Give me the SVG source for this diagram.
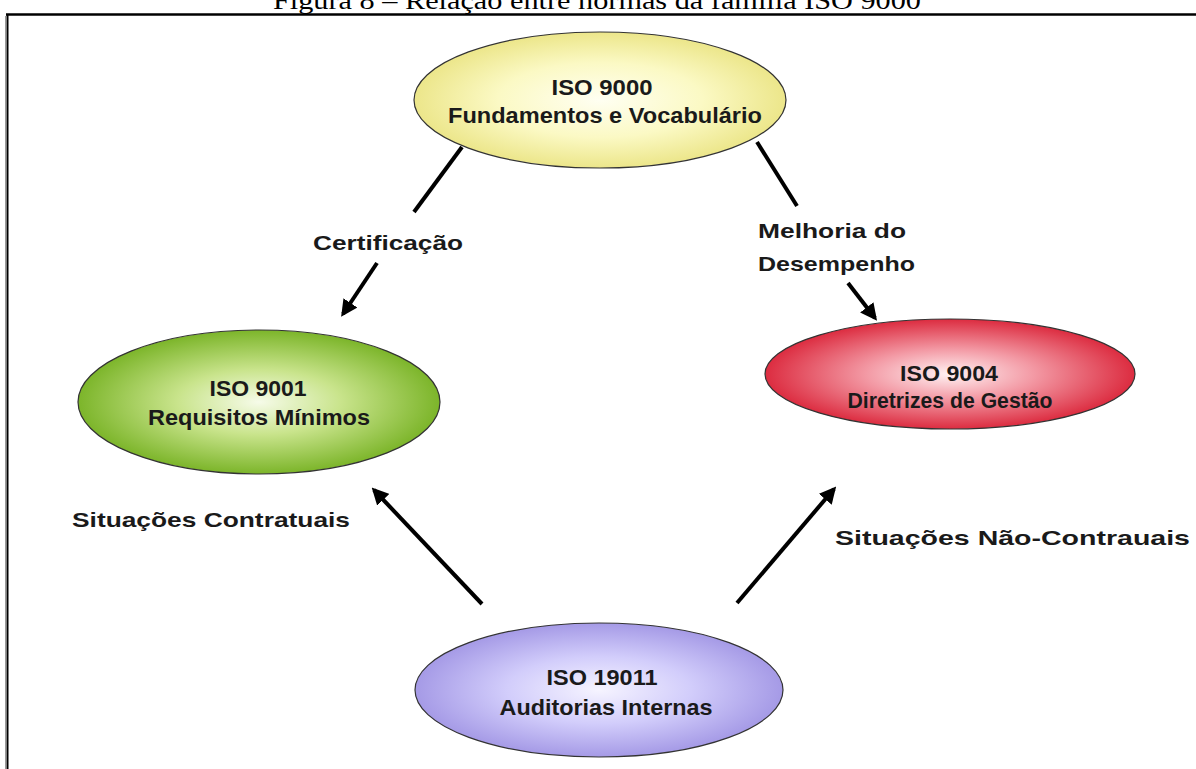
<svg xmlns="http://www.w3.org/2000/svg" width="1196" height="769" viewBox="0 0 1196 769">
<style>
.node-text{font-family:"Liberation Sans",Arial,sans-serif;font-weight:bold;font-size:22px;fill:#1a1a1a;text-anchor:middle}
.label{font-family:"Liberation Sans",Arial,sans-serif;font-weight:bold;font-size:21px;fill:#1a1a1a}
.edge{stroke:#000;stroke-width:4;fill:none}
.shape{stroke:#333;stroke-width:1.2}
</style>
<defs>
<radialGradient id="gYellow" cx="0.5" cy="0.5" r="0.5">
<stop offset="0" stop-color="#fffff2"/>
<stop offset="0.55" stop-color="#fbf9c4"/>
<stop offset="1" stop-color="#ece68a"/>
</radialGradient>
<radialGradient id="gGreen" cx="0.5" cy="0.5" r="0.5">
<stop offset="0" stop-color="#f6fbe9"/>
<stop offset="0.45" stop-color="#c9e48c"/>
<stop offset="1" stop-color="#7cb52a"/>
</radialGradient>
<radialGradient id="gRed" cx="0.5" cy="0.5" r="0.5">
<stop offset="0" stop-color="#fff2f3"/>
<stop offset="0.45" stop-color="#f39aa5"/>
<stop offset="1" stop-color="#dc2c40"/>
</radialGradient>
<radialGradient id="gPurple" cx="0.5" cy="0.5" r="0.5">
<stop offset="0" stop-color="#f6f4ff"/>
<stop offset="0.5" stop-color="#d2cdfb"/>
<stop offset="1" stop-color="#a59ae6"/>
</radialGradient>
<marker id="arrow" viewBox="0 0 10 10" refX="8" refY="5" markerWidth="4.2" markerHeight="4.2" orient="auto" markerUnits="strokeWidth">
<path d="M0,0 L10,5 L0,10 z" fill="#000"/>
</marker>
</defs>
<rect x="0" y="0" width="1196" height="769" fill="#fff"/>
<text x="597" y="9" font-family="'Liberation Serif','Times New Roman',serif" font-size="26" text-anchor="middle" fill="#000" textLength="648" lengthAdjust="spacingAndGlyphs">Figura 8 – Relação entre normas da família ISO 9000</text>
<g id="frame">
<line x1="6" y1="14.5" x2="1196" y2="14.5" stroke="#000" stroke-width="2.5"/>
<line x1="7.5" y1="14" x2="7.5" y2="769" stroke="#000" stroke-width="2"/>
<line x1="5.5" y1="16" x2="5.5" y2="769" stroke="#999" stroke-width="1"/>
</g>
<g id="connectors">
<line class="edge" x1="462" y1="147" x2="414" y2="212"/>
<line class="edge" x1="377" y1="263" x2="343" y2="314" marker-end="url(#arrow)"/>
<line class="edge" x1="757" y1="142" x2="797" y2="206"/>
<line class="edge" x1="848" y1="283" x2="875" y2="318" marker-end="url(#arrow)"/>
<line class="edge" x1="482" y1="604" x2="374" y2="490" marker-end="url(#arrow)"/>
<line class="edge" x1="737" y1="603" x2="834" y2="489" marker-end="url(#arrow)"/>
</g>
<g id="labels">
<text class="label" x="313" y="250" textLength="150" lengthAdjust="spacingAndGlyphs">Certificação</text>
<text class="label" x="758" y="238" textLength="148" lengthAdjust="spacingAndGlyphs">Melhoria do</text>
<text class="label" x="758" y="271" textLength="157" lengthAdjust="spacingAndGlyphs">Desempenho</text>
<text class="label" x="72" y="527" textLength="278" lengthAdjust="spacingAndGlyphs">Situações Contratuais</text>
<text class="label" x="835" y="545" textLength="355" lengthAdjust="spacingAndGlyphs">Situações Não-Contrauais</text>
</g>
<g id="node-iso9000">
<ellipse class="shape" cx="600" cy="100" rx="186" ry="68" fill="url(#gYellow)"/>
<text class="node-text" x="602" y="95" textLength="101" lengthAdjust="spacingAndGlyphs">ISO 9000</text>
<text class="node-text" x="605" y="123" textLength="314" lengthAdjust="spacingAndGlyphs">Fundamentos e Vocabulário</text>
</g>
<g id="node-iso9001">
<ellipse class="shape" cx="259" cy="402" rx="181" ry="72" fill="url(#gGreen)"/>
<text class="node-text" x="258" y="396" textLength="97" lengthAdjust="spacingAndGlyphs">ISO 9001</text>
<text class="node-text" x="259" y="425" textLength="222" lengthAdjust="spacingAndGlyphs">Requisitos Mínimos</text>
</g>
<g id="node-iso9004">
<ellipse class="shape" cx="950" cy="374" rx="185" ry="55" fill="url(#gRed)"/>
<text class="node-text" x="949" y="381" textLength="98" lengthAdjust="spacingAndGlyphs">ISO 9004</text>
<text class="node-text" x="950" y="408" textLength="205" lengthAdjust="spacingAndGlyphs">Diretrizes de Gestão</text>
</g>
<g id="node-iso19011">
<ellipse class="shape" cx="599" cy="690" rx="184" ry="67" fill="url(#gPurple)"/>
<text class="node-text" x="602" y="685" textLength="111" lengthAdjust="spacingAndGlyphs">ISO 19011</text>
<text class="node-text" x="606" y="715" textLength="213" lengthAdjust="spacingAndGlyphs">Auditorias Internas</text>
</g>
</svg>
